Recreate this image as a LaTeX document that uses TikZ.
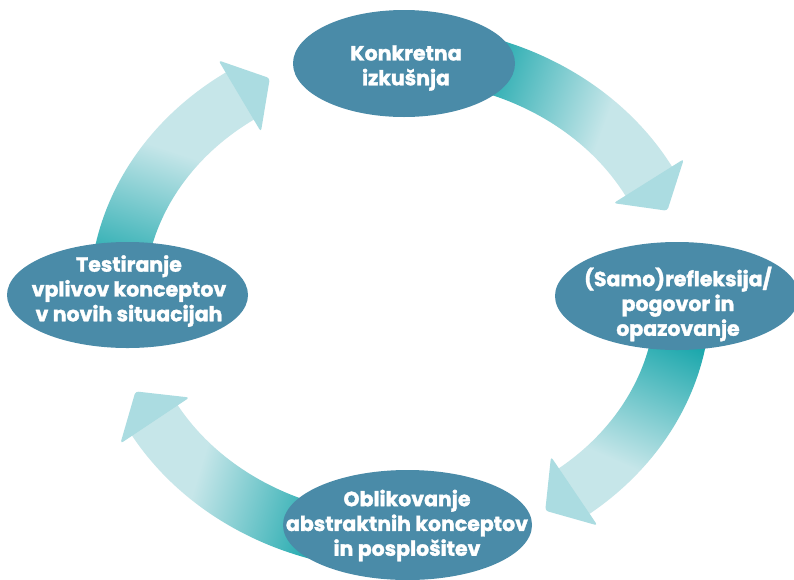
\documentclass[tikz,border=0pt]{standalone}
\usepackage{fontspec}
\setmainfont{Poppins}[FakeBold=1.6]
\usetikzlibrary{calc,shapes.geometric}
\definecolor{ellc}{RGB}{74,139,168}
\definecolor{tealc}{RGB}{24,166,171}
\definecolor{lightc}{RGB}{198,230,233}
\definecolor{headc}{RGB}{171,220,225}
\pgfdeclarehorizontalshading{fadeshade}{100bp}{color(0bp)=(tealc); color(44.2bp)=(tealc); color(55.8bp)=(lightc); color(100bp)=(lightc)}
\tikzset{
  cycnode/.style={ellipse, fill=ellc, inner sep=0pt},
  cyctext/.style={text=white, align=center, inner sep=0pt, font=\fontsize{20.5}{24.8}\selectfont\bfseries},
  headshape/.style={fill=headc, rounded corners=3pt},
}
\newcommand{\cycarrow}[5]{%
  \begin{scope}
    \clip ($(O)+(#1:310.5pt and 272.5pt)$) arc[start angle=#1, end angle=#3, x radius=310.5pt, y radius=272.5pt]
      -- ($(O)+(#3:255.5pt and 217.5pt)$) arc[start angle=#3, end angle=#1, x radius=255.5pt, y radius=217.5pt] -- cycle;
    \shade[shading=fadeshade, shading angle=#5] (#4) ++(-300pt,-300pt) rectangle ++(600pt,600pt);
  \end{scope}
  \pgfmathsetmacro{\headang}{atan2(-245*cos(#2), 283*sin(#2))}
  \begin{scope}[shift={($(O)+(#2:283pt and 245pt)$)}, rotate=\headang]
    \fill[headshape] (0pt,41.5pt) -- (35pt,0pt) -- (0pt,-41.5pt) -- cycle;
  \end{scope}
}
\begin{document}
\begin{tikzpicture}[x=1pt,y=1pt]
\fill[white] (0,0) rectangle (794,-579);
\useasboundingbox (0,0) rectangle (794,-579);
\coordinate (O) at (400,-298);
% arrows (clockwise)
\cycarrow{72}{28.5}{27}{540,-98}{-20}
\cycarrow{-5}{-52}{-53.5}{655,-402}{-113.5}
\cycarrow{-105}{-150}{-151.5}{266,-489}{163}
\cycarrow{172}{124.5}{123}{144,-215}{72}
% ellipses
\node[cycnode, minimum width=222pt, minimum height=107pt] (e1) at (404,-63.5) {};
\node[cycnode, minimum width=244pt, minimum height=108pt] (e2) at (677,-296) {};
\node[cycnode, minimum width=249pt, minimum height=110pt] (e3) at (407.5,-525) {};
\node[cycnode, minimum width=241pt, minimum height=106pt] (e4) at (127.5,-295) {};
% texts
\node[cyctext] (t1) at (406,-68) {Konkretna\\izkušnja};
\node[cyctext] (t2) at (678,-304) {(Samo)refleksija/\\pogovor in\\opazovanje};
\node[cyctext] (t3) at (407,-525.5) {Oblikovanje\\abstraktnih konceptov\\in posplošitev};
\node[cyctext] (t4) at (129,-291) {Testiranje\\vplivov konceptov\\v novih situacijah};
\end{tikzpicture}
\end{document}
